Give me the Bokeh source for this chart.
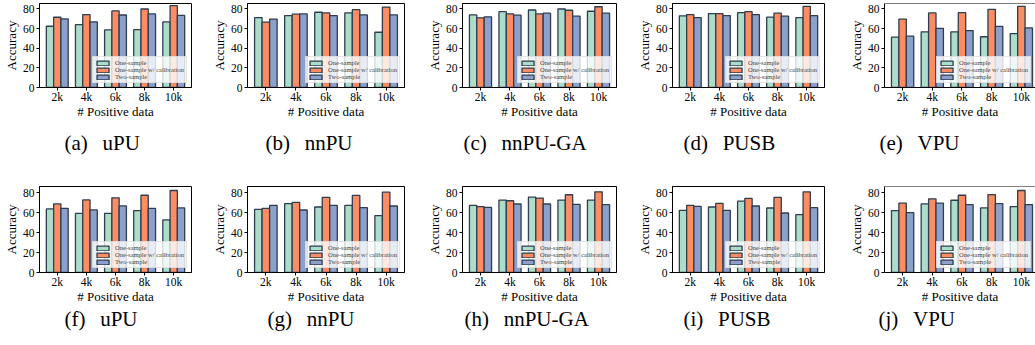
from bokeh.plotting import figure
from bokeh.layouts import column, row
from bokeh.models import Title, Span, FixedTicker, Range1d, ColumnDataSource
from bokeh.transform import dodge
from bokeh.embed import file_html
from bokeh.resources import INLINE

categories = ["2k", "4k", "6k", "8k", "10k"]
series_names = ["One-sample", "One-sample w/ calibration", "Two-sample"]
y_ticks = [0, 20, 40, 60, 80]
caption_tags = ["(a)", "(b)", "(c)", "(d)", "(e)", "(f)", "(g)", "(h)", "(i)", "(j)"]
caption_names = ["uPU", "nnPU", "nnPU-GA", "PUSB", "VPU",
                 "uPU", "nnPU", "nnPU-GA", "PUSB", "VPU"]

# top row
a_one = [62.4, 64.1, 58.7, 59.0, 66.8]
a_cal = [71.6, 74.3, 78.0, 80.0, 83.4]
a_two = [69.9, 66.8, 73.9, 75.0, 73.6]
b_one = [71.3, 73.3, 76.7, 76.0, 56.3]
b_cal = [66.7, 74.7, 76.0, 79.3, 82.0]
b_two = [69.7, 75.0, 73.3, 74.0, 74.0]
c_one = [74.0, 77.3, 79.0, 80.0, 77.7]
c_cal = [71.0, 75.0, 75.0, 78.7, 82.3]
c_two = [72.0, 73.7, 75.7, 72.7, 75.7]
d_one = [73.0, 75.3, 76.3, 71.7, 71.3]
d_cal = [74.3, 75.3, 77.3, 75.7, 82.7]
d_two = [71.3, 73.3, 74.3, 72.7, 73.3]
e_one = [51.3, 56.7, 56.7, 51.7, 55.0]
e_cal = [69.7, 76.0, 76.3, 79.7, 82.7]
e_two = [52.3, 60.3, 58.0, 62.3, 60.7]
# bottom row
f_one = [63.9, 59.5, 59.5, 62.2, 52.8]
f_cal = [68.9, 72.9, 75.0, 77.6, 82.4]
f_two = [64.5, 62.9, 66.9, 64.5, 64.9]
g_one = [63.5, 69.1, 65.8, 67.4, 57.2]
g_cal = [64.5, 70.4, 75.4, 77.4, 80.7]
g_two = [67.4, 62.8, 67.4, 65.1, 66.8]
h_one = [67.4, 72.8, 75.7, 72.8, 72.8]
h_cal = [66.1, 72.1, 74.8, 78.1, 81.1]
h_two = [65.4, 68.8, 68.8, 68.4, 68.1]
i_one = [62.5, 65.8, 71.7, 64.8, 58.2]
i_cal = [67.4, 69.4, 74.4, 75.4, 81.0]
i_two = [66.4, 62.5, 66.8, 59.8, 65.1]
j_one = [62.2, 68.9, 72.6, 64.9, 66.2]
j_cal = [69.6, 74.0, 77.6, 78.3, 82.4]
j_two = [60.2, 69.6, 68.2, 69.2, 68.2]

panels = [
    (a_one, a_cal, a_two), (b_one, b_cal, b_two), (c_one, c_cal, c_two),
    (d_one, d_cal, d_two), (e_one, e_cal, e_two),
    (f_one, f_cal, f_two), (g_one, g_cal, g_two), (h_one, h_cal, h_two),
    (i_one, i_cal, i_two), (j_one, j_cal, j_two),
]

COLORS = ["#abddca", "#fc8d62", "#8da0cb"]
EDGE = "#2e3d4f"
SERIF = "Liberation Serif"

# layout (pixels)
fig_widths = [205, 217, 208, 215, 190]
borders_l = [35, 42, 40, 42, 38]
borders_r = [14, 18, 14, 21, 0]
caption_left = [[60, 265, 463, 683, 878], [60, 267, 464, 683, 877]]
row_cfg = [
    dict(height=172, top=3, bottom=85, ymax=85.6, cap_standoff=15),
    dict(height=173, top=14, bottom=73, ymax=86.4, cap_standoff=-4),
]
PX_PER_UNIT = 156 / 5.22
X0 = -0.61


def make_panel(idx):
    r, c = divmod(idx, 5)
    cfg = row_cfg[r]
    one, cal, two = panels[idx]
    fig_left = sum(fig_widths[:c])
    fw = fig_widths[c] - borders_l[c] - borders_r[c]
    x_end = 4.61 if c < 4 else X0 + fw / PX_PER_UNIT
    p = figure(width=fig_widths[c], height=cfg["height"],
               x_range=Range1d(X0, x_end), y_range=Range1d(0, cfg["ymax"]),
               output_backend="svg", toolbar_location=None,
               min_border_left=borders_l[c], min_border_right=borders_r[c],
               min_border_top=cfg["top"], min_border_bottom=cfg["bottom"])
    src = ColumnDataSource(dict(x=list(range(len(categories))), one=one, cal=cal, two=two))
    for key, off, col, name in zip(["one", "cal", "two"], [-0.25, 0, 0.25], COLORS, series_names):
        p.vbar(x=dodge("x", off), top=key, width=0.25, source=src,
               fill_color=col, line_color=EDGE, line_width=1.3, legend_label=name)
    p.xgrid.visible = False
    p.ygrid.visible = False
    p.background_fill_color = "white"
    p.border_fill_color = "white"
    if c < 4:
        p.outline_line_color = "black"
        p.outline_line_width = 1
        p.outline_line_alpha = 1
    else:
        p.outline_line_color = None
        p.add_layout(Span(location=cfg["ymax"], dimension="width", line_color="black", line_width=1))

    p.xaxis.ticker = FixedTicker(ticks=list(range(len(categories))))
    p.xaxis.major_label_overrides = {i: t for i, t in enumerate(categories)}
    p.yaxis.ticker = FixedTicker(ticks=y_ticks)
    for ax in (p.xaxis[0], p.yaxis[0]):
        ax.axis_line_color = "black"
        ax.axis_line_width = 1
        ax.major_tick_line_color = "black"
        ax.major_tick_out = 3
        ax.major_tick_in = 0
        ax.minor_tick_line_color = None
        ax.major_label_text_font = SERIF
        ax.major_label_text_font_size = "11.5px"
        ax.major_label_text_color = "black"
        ax.axis_label_text_font = SERIF
        ax.axis_label_text_font_size = "13px"
        ax.axis_label_text_font_style = "normal"
        ax.axis_label_text_color = "black"
    p.yaxis.major_label_standoff = 2
    p.yaxis.axis_label_standoff = 1
    p.xaxis.major_label_standoff = 0
    p.xaxis.axis_label_standoff = -2
    p.xaxis.axis_label = "# Positive data"
    p.yaxis.axis_label = "Accuracy"

    lg = p.legend[0]
    lg.location = "bottom_right"
    lg.margin = 4
    lg.padding = 2
    lg.spacing = 0
    lg.glyph_width = 15
    lg.glyph_height = 6
    lg.label_height = 7
    lg.label_standoff = 5
    lg.label_text_font = SERIF
    lg.label_text_font_size = "6.5px"
    lg.label_text_line_height = 1.0
    lg.background_fill_color = "white"
    lg.background_fill_alpha = 0.8
    lg.border_line_color = "#cccccc"
    lg.border_line_width = 1

    cap = caption_tags[idx] + "\u2002\u2009" + caption_names[idx]
    p.add_layout(Title(text=cap, align="left",
                       offset=caption_left[r][c] - fig_left - borders_l[c],
                       standoff=cfg["cap_standoff"], vertical_align="bottom",
                       text_font=SERIF, text_font_size="21px",
                       text_font_style="normal", text_color="black"), "below")
    return p


figs = [make_panel(i) for i in range(10)]
layout = column(row(*figs[:5], spacing=0), row(*figs[5:], spacing=0), spacing=0)

open("out.html", "w").write(file_html(layout, INLINE))
